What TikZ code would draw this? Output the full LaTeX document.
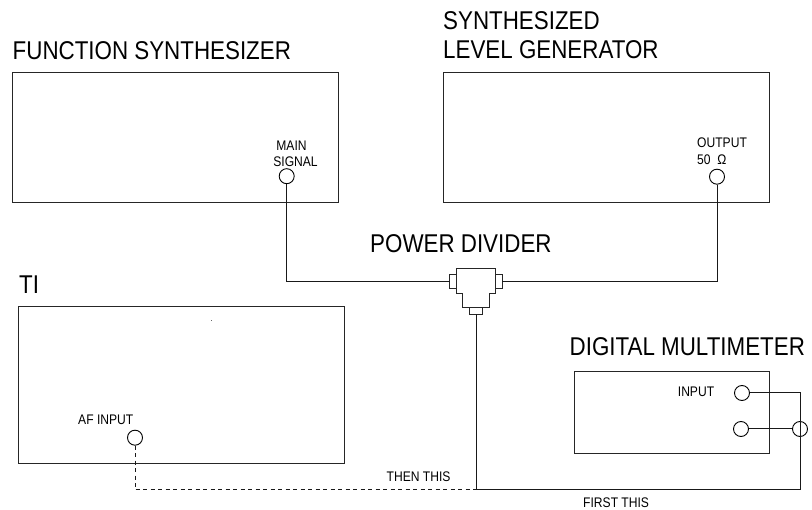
\documentclass[tikz,border=0pt]{standalone}
\usepackage{fontspec}
\setmainfont{Liberation Sans}[FakeStretch=0.87]
\tikzset{
  x=1pt,y=-1pt,
  devbox/.style={draw=black!85,line width=1pt,fill=none},
  nub/.style={draw=black!85,line width=1pt,inner sep=0pt,outer sep=0pt},
  port/.style={circle,draw=black,line width=0.9pt,minimum size=15pt,inner sep=0pt,fill=white},
  wire/.style={draw=black!90,line width=1pt},
  dashwire/.style={wire,dash pattern=on 4pt off 3.5pt},
  title/.style={font=\fontsize{25.7}{27}\selectfont,anchor=base west,inner sep=0pt},
  small/.style={font=\fontsize{13.9}{15}\selectfont,anchor=base west,inner sep=0pt},
}
\begin{document}
\begin{tikzpicture}
\useasboundingbox (0,0) rectangle (812,510);
% device boxes
\draw[devbox] (12,72.5) rectangle (338,203);
\draw[devbox] (443,72.5) rectangle (769,203);
\draw[devbox] (18,307) rectangle (344,464);
\draw[devbox] (574,372) rectangle (769,454);
% power divider
\draw[devbox] (456.3,268.7) -- (495.7,268.7) -- (495.7,294) -- (489.3,294) -- (489.3,307.3) -- (462.7,307.3) -- (462.7,294) -- (456.3,294) -- cycle;
\node[nub,minimum width=6.6pt,minimum height=14pt] (pdl) at (453,281.5) {};
\node[nub,minimum width=6.6pt,minimum height=14pt] (pdr) at (499,281.5) {};
\node[nub,minimum width=13.4pt,minimum height=7pt] (pdb) at (476,310.8) {};
% ports
\node[port] (fsout) at (286.7,176.2) {};
\node[port] (slgout) at (717,176.7) {};
\node[port] (afin) at (135,437.7) {};
\node[port] (dmma) at (742,393) {};
\node[port] (dmmb) at (741,429) {};
\node[port] (dmmc) at (800,429) {};
% junctions
\coordinate (j1) at (fsout |- pdl);
\coordinate (j2) at (slgout |- pdr);
\coordinate (busj) at (pdb |- 0,490);
\coordinate (ca) at (dmmc |- dmma);
\coordinate (cb) at (dmmc |- busj);
\coordinate (cc) at (afin |- busj);
% connectors
\draw[wire] (fsout) -- (j1) -- (pdl);
\draw[wire] (slgout) -- (j2) -- (pdr);
\draw[wire] (pdb) -- (busj) -- (cb) -- (ca) -- (dmma);
\draw[wire] (dmmb) -- (dmmc);
\draw[dashwire] (afin) -- (cc) -- (busj);
% titles
\node[title] (t1) at (12.5,59.3) {FUNCTION SYNTHESIZER};
\node[title] (t2) at (443,30) {SYNTHESIZED};
\node[title] (t3) at (443,59) {LEVEL GENERATOR};
\node[title] (t4) at (370,253) {POWER DIVIDER};
\node[title] (t5) at (19,294) {TI};
\node[title] (t6) at (569.5,356) {DIGITAL MULTIMETER};
% small labels
\node[small,anchor=base] (l1) at (291.5,151) {MAIN};
\node[small,anchor=base] (l2) at (295.5,166.5) {SIGNAL};
\node[small] (l3) at (697,147.7) {OUTPUT};
\node[small] (l4) at (697,164.3) {50\ \ Ω};
\node[small] (l5) at (78,425) {AF INPUT};
\node[small] (l6) at (677.7,397) {INPUT};
\node[small] (l7) at (386.5,482) {THEN THIS};
\node[small] (l8) at (583,508) {FIRST THIS};
\fill[black!60] (210.7,320) rectangle (211.7,321);
\end{tikzpicture}
\end{document}
